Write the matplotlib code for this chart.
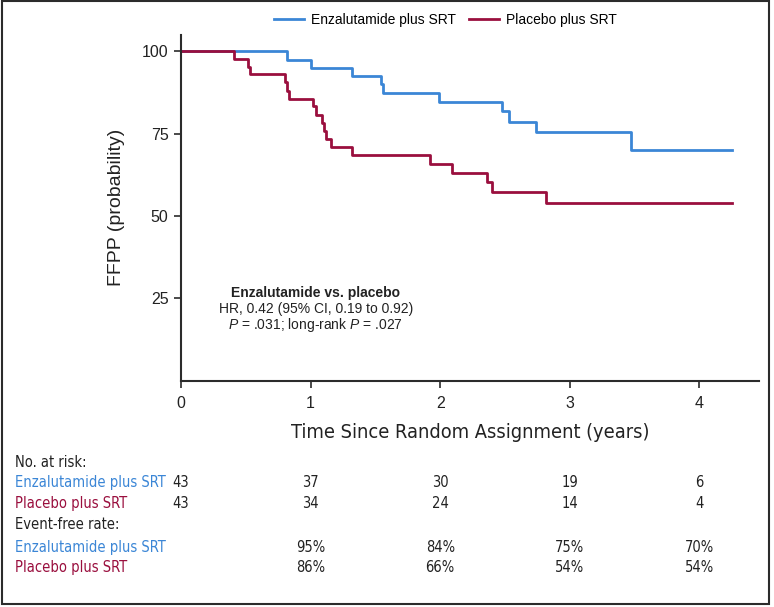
import matplotlib
matplotlib.use("Agg")
import matplotlib.pyplot as plt
import matplotlib.transforms as mtransforms
from matplotlib.patches import Rectangle

# step curves (years, FFPP %)
enza_times = [0, 0.82, 1.00, 1.32, 1.54, 1.56, 1.99, 2.48, 2.53, 2.74, 3.47, 4.25]
enza_surv = [100, 97.5, 95.0, 92.5, 90.0, 87.3, 84.6, 81.8, 78.7, 75.6, 70.2, 70.2]
plac_times = [0, 0.41, 0.52, 0.535, 0.80, 0.82, 0.83, 1.02, 1.04, 1.086, 1.10, 1.117,
              1.16, 1.32, 1.92, 2.09, 2.36, 2.40, 2.82, 4.25]
plac_surv = [100, 97.7, 95.4, 93.2, 90.8, 88.1, 85.7, 83.4, 80.8, 78.3, 75.8, 73.5,
             71.0, 68.5, 65.9, 63.1, 60.3, 57.4, 54.0, 54.0]

years = [0, 1, 2, 3, 4]
enza_risk = ["43", "37", "30", "19", "6"]
plac_risk = ["43", "34", "24", "14", "4"]
rate_years = [1, 2, 3, 4]
enza_rate = ["95%", "84%", "75%", "70%"]
plac_rate = ["86%", "66%", "54%", "54%"]

blue = "#3B86D6"
red = "#9A0F3E"
dark = "#2b2b2b"
reg = ["Liberation Sans", "DejaVu Sans"]
cond = dict(family="DejaVu Sans", stretch="condensed")

plt.rcParams["mathtext.fontset"] = "custom"
plt.rcParams["mathtext.it"] = "Liberation Sans:italic"
plt.rcParams["mathtext.rm"] = "Liberation Sans"

fig = plt.figure(figsize=(7.74, 6.07), dpi=100)
ax = fig.add_axes([0.2339, 0.3728, 0.7467, 0.5695])

ax.step(enza_times, enza_surv, where="post", color=blue, linewidth=2, label="Enzalutamide plus SRT")
ax.step(plac_times, plac_surv, where="post", color=red, linewidth=2, label="Placebo plus SRT")

ax.set_xlim(0, 4.46)
ax.set_ylim(0, 105)
ax.set_xticks(years)
ax.set_yticks([25, 50, 75, 100])
for s in ["top", "right"]:
    ax.spines[s].set_visible(False)
for s in ["left", "bottom"]:
    ax.spines[s].set_color(dark)
    ax.spines[s].set_linewidth(1.5)
ax.tick_params(axis="both", colors=dark, width=1.2, length=5, labelsize=11.5, labelcolor="#222222")
ax.tick_params(axis="y", pad=4)
ax.tick_params(axis="x", pad=6)
for lab in ax.get_xticklabels() + ax.get_yticklabels():
    lab.set_family(reg)

ax.set_ylabel("FFPP (probability)", fontsize=14, family=reg, color="#222222", labelpad=12)
ax.set_xlabel("Time Since Random Assignment (years)", fontsize=14.3, color="#222222",
              labelpad=9, **cond)

ax.text(1.04, 26.7, "Enzalutamide vs. placebo", ha="center", va="center",
        fontsize=10, fontweight="bold", family=reg, color="#222222")
ax.text(1.04, 21.7, "HR, 0.42 (95% CI, 0.19 to 0.92)", ha="center", va="center",
        fontsize=10, family=reg, color="#222222")
ax.text(1.04, 16.9, r"$P$ = .031; long-rank $P$ = .027", ha="center", va="center",
        fontsize=10, family=reg, color="#222222")

fig.legend(loc="center", bbox_to_anchor=(0.5756, 0.967), ncol=2, frameon=False,
           handlelength=2.2, handletextpad=0.5, columnspacing=0.9,
           prop={"family": reg, "size": 10})

# risk table
tr = mtransforms.blended_transform_factory(ax.transData, fig.transFigure)
rows_y = [0.2377, 0.2043, 0.1713, 0.1351, 0.0988, 0.0643]
lab_x = 0.019
tsize = 10.5
fig.text(lab_x, rows_y[0], "No. at risk:", fontsize=tsize, color="#222222", va="center", **cond)
fig.text(lab_x, rows_y[1], "Enzalutamide plus SRT", fontsize=tsize, color=blue, va="center", **cond)
fig.text(lab_x, rows_y[2], "Placebo plus SRT", fontsize=tsize, color=red, va="center", **cond)
fig.text(lab_x, rows_y[3], "Event-free rate:", fontsize=tsize, color="#222222", va="center", **cond)
fig.text(lab_x, rows_y[4], "Enzalutamide plus SRT", fontsize=tsize, color=blue, va="center", **cond)
fig.text(lab_x, rows_y[5], "Placebo plus SRT", fontsize=tsize, color=red, va="center", **cond)
for x, a, b in zip(years, enza_risk, plac_risk):
    ax.text(x, rows_y[1], a, transform=tr, ha="center", va="center", fontsize=tsize, color="#222222", **cond)
    ax.text(x, rows_y[2], b, transform=tr, ha="center", va="center", fontsize=tsize, color="#222222", **cond)
for x, a, b in zip(rate_years, enza_rate, plac_rate):
    ax.text(x, rows_y[4], a, transform=tr, ha="center", va="center", fontsize=tsize, color="#222222", **cond)
    ax.text(x, rows_y[5], b, transform=tr, ha="center", va="center", fontsize=tsize, color="#222222", **cond)

# outer frame
fig.patches.append(Rectangle((0.002, 0.005), 0.992, 0.993, transform=fig.transFigure,
                             fill=False, edgecolor=dark, linewidth=1.5))

fig.savefig("out.png", dpi=100)
